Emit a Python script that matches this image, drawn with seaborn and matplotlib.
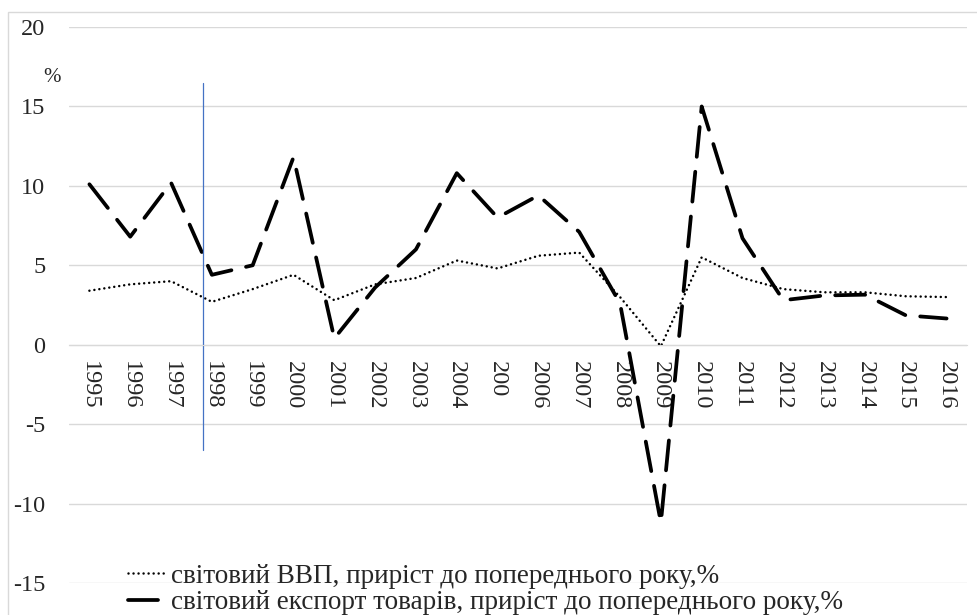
# %%
import pandas as pd
import matplotlib
matplotlib.use("Agg")
import matplotlib.pyplot as plt
import matplotlib.patches as patches
import seaborn as sns

# %%
years = ["1995", "1996", "1997", "1998", "1999", "2000", "2001", "2002", "2003", "2004", "200",
         "2006", "2007", "2008", "2009", "2010", "2011", "2012", "2013", "2014", "2015", "2016"]
gdp = [3.4, 3.8, 4.0, 2.7, 3.5, 4.4, 2.8, 3.8, 4.2, 5.3, 4.8,
       5.6, 5.8, 3.0, -0.1, 5.5, 4.2, 3.5, 3.3, 3.3, 3.05, 3.0]
exports = [10.1, 6.8, 10.2, 4.4, 5.0, 11.8, 0.4, 3.6, 6.0, 10.8, 8.0,
           9.4, 7.1, 2.6, -11.2, 15.0, 6.7, 2.8, 3.1, 3.15, 1.85, 1.65]
gdp_label = "світовий ВВП, приріст до попереднього року,%"
exp_label = "світовий експорт товарів, приріст до попереднього року,%"

df = pd.DataFrame({"pos": range(len(years)), "year": years, "gdp": gdp, "exports": exports})

# %%
sns.set_style("white")
plt.rcParams["font.family"] = ["Liberation Serif", "DejaVu Serif"]
plt.rcParams["axes.unicode_minus"] = False

fig = plt.figure(figsize=(9.77, 6.15), dpi=100)
ax = fig.add_axes([69 / 977, 1 - 583 / 615, 898 / 977, 556 / 615])

sns.lineplot(data=df, x="pos", y="gdp", ax=ax, color="black", lw=1.8,
             dashes=False, label=gdp_label)
sns.lineplot(data=df, x="pos", y="exports", ax=ax, color="black", lw=2.7,
             dashes=False, label=exp_label)
ax.lines[0].set_dashes((0.01, 2.0))
ax.lines[0].set_dash_capstyle("round")
ax.lines[1].set_dashes((8, 4))
ax.lines[1].set_dash_capstyle("round")

ax.set_xlim(-0.5, len(years) - 0.5)
ax.set_ylim(-15, 20)
ax.set_yticks(range(-15, 21, 5))
ax.set_xticks(df["pos"])
ax.set_xticklabels(years)
ax.tick_params(axis="x", length=0, pad=12, labelsize=17.5, labelrotation=270)
ax.tick_params(axis="y", length=0, pad=17, labelsize=17.5)
for t in ax.get_xticklabels():
    t.set_va("top")
    t.set_ha("center")
ax.set_xlabel("")
ax.set_ylabel("")

ax.grid(axis="y", color="#d9d9d9", lw=1)
ax.grid(axis="x", visible=False)
for s in ["top", "right", "left"]:
    ax.spines[s].set_visible(False)
ax.spines["bottom"].set_position(("data", 0))
ax.spines["bottom"].set_color("#d9d9d9")

# vertical marker line
ax.axvline(2.79, ymin=(15 - 6.6) / 35, ymax=(15 + 16.5) / 35, color="#4472c4", lw=0.9)
ax.text(-0.019, 0.91, "%", transform=ax.transAxes, ha="center", va="center", fontsize=15)

leg = ax.legend(loc="lower left", bbox_to_anchor=(0.066, -0.058), frameon=False, fontsize=19.5,
                handlelength=1.45, handletextpad=0.12, labelspacing=0.05, borderpad=0, borderaxespad=0)

fig.add_artist(patches.Rectangle((8 / 977, -0.01), 1, (615 - 12) / 615 + 0.01, transform=fig.transFigure,
                                 fill=False, edgecolor="#d9d9d9", lw=1))

plt.savefig("out.png", dpi=100)
